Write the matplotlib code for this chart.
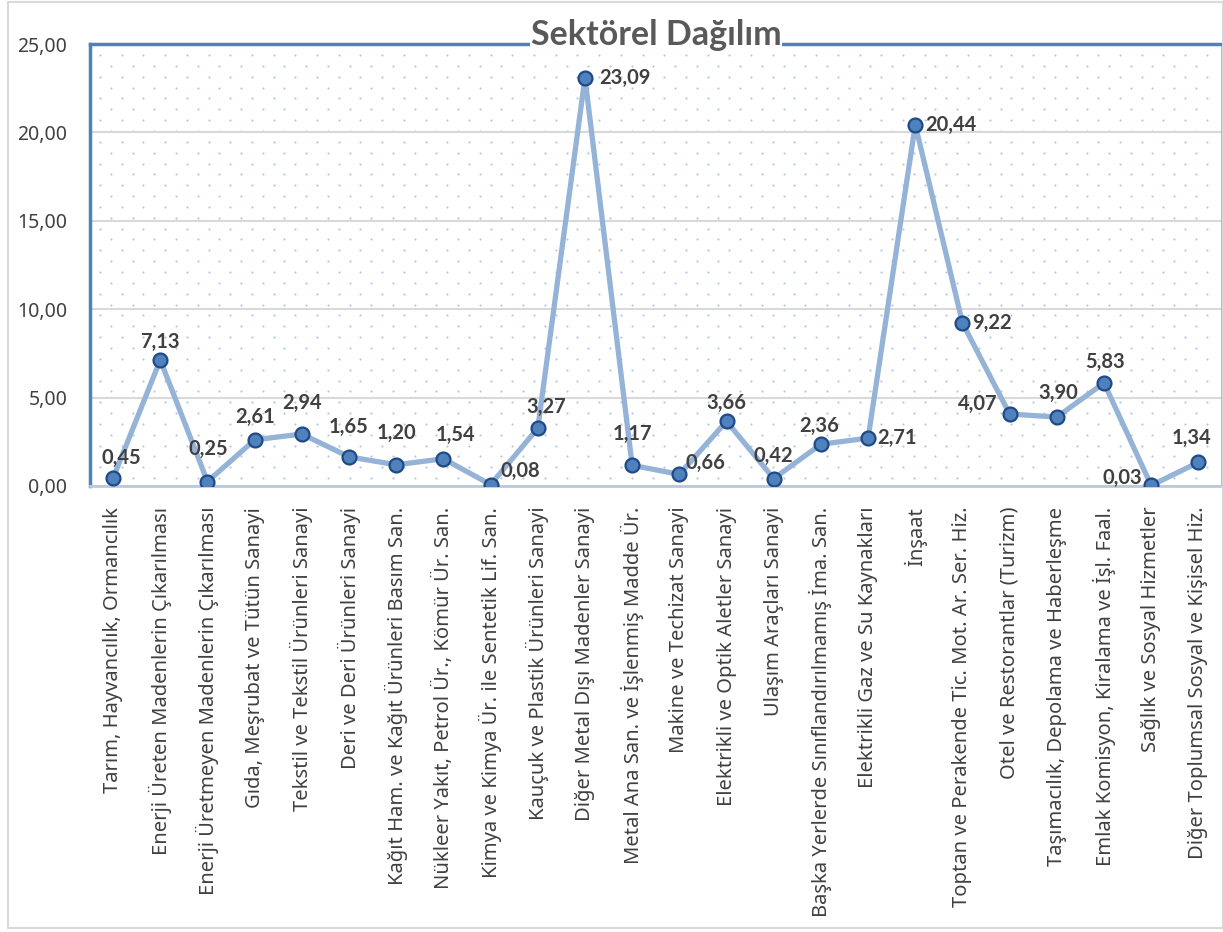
import numpy as np
import matplotlib.pyplot as plt
from matplotlib.patches import Rectangle
from matplotlib.ticker import FuncFormatter

sectors = [
    "Tarım, Hayvancılık, Ormancılık",
    "Enerji Üreten Madenlerin Çıkarılması",
    "Enerji Üretmeyen Madenlerin Çıkarılması",
    "Gıda, Meşrubat ve Tütün Sanayi",
    "Tekstil ve Tekstil Ürünleri Sanayi",
    "Deri ve Deri Ürünleri Sanayi",
    "Kağıt Ham. ve Kağıt Ürünleri Basım San.",
    "Nükleer Yakıt, Petrol Ür., Kömür Ür. San.",
    "Kimya ve Kimya Ür. ile Sentetik Lif. San.",
    "Kauçuk ve Plastik Ürünleri Sanayi",
    "Diğer Metal Dışı Madenler Sanayi",
    "Metal Ana San. ve İşlenmiş Madde Ür.",
    "Makine ve Techizat Sanayi",
    "Elektrikli ve Optik Aletler Sanayi",
    "Ulaşım Araçları Sanayi",
    "Başka Yerlerde Sınıflandırılmamış İma. San.",
    "Elektrikli Gaz ve Su Kaynakları",
    "İnşaat",
    "Toptan ve Perakende Tic. Mot. Ar. Ser. Hiz.",
    "Otel ve Restorantlar (Turizm)",
    "Taşımacılık, Depolama ve Haberleşme",
    "Emlak Komisyon, Kiralama ve İşl. Faal.",
    "Sağlık ve Sosyal Hizmetler",
    "Diğer Toplumsal Sosyal ve Kişisel Hiz.",
]
shares = [0.45, 7.13, 0.25, 2.61, 2.94, 1.65, 1.20, 1.54, 0.08, 3.27, 23.09, 1.17,
          0.66, 3.66, 0.42, 2.36, 2.71, 20.44, 9.22, 4.07, 3.90, 5.83, 0.03, 1.34]

# label placement (pixels): a = above, r = right, l = left
lab_pos = ['a', 'a', 'a', 'a', 'a', 'a', 'a', 'a', 'r', 'a', 'r', 'a',
           'r', 'a', 'a', 'a', 'r', 'r', 'r', 'l', 'a', 'a', 'l', 'a']
lab_dx = [8, 0, 1, 0, 0, 0, 0, 12, 10, 8, 14, 0, 6, 0, 0, -2, 9, 10, 10, -12, 1, 1, -9, -7]
lab_dy = [20, 18, 33, 23, 31, 30, 32, 24, 14, 21, 0, 31, 11, 18, 23, 18, 0, 0, 0, 10, 24, 21, 8, 24]

plt.rcParams['font.family'] = ['Noto Sans', 'DejaVu Sans']

W, H = 1223, 932
fig = plt.figure(figsize=(W / 100, H / 100), dpi=100)
ax = fig.add_axes([89.5 / W, (H - 486) / H, 1132.5 / W, 442 / H])

x = np.arange(len(sectors))

# dotted background
cols = np.arange(10.5, 1132, 21.7) / 1132.5
rows = np.arange(11, 442, 10.85) / 442
px, py = [], []
for k, r in enumerate(rows):
    off = 0 if k % 2 == 0 else 10.85 / 1132.5
    for c in cols:
        xx = c - off
        if 0 < xx < 1:
            px.append(xx)
            py.append(1 - r)
ax.scatter(px, py, s=2.5, color='#B3C9E6', linewidths=0, transform=ax.transAxes, zorder=0)

ax.plot(x, shares, color='#95B3D7', lw=3.8, zorder=3, solid_capstyle='round')
ax.plot(x, shares, 'o', ms=10, mfc='#4F81BD', mec='#1F4A87', mew=1.6, zorder=4)

for i, v in enumerate(shares):
    txt = f"{v:.2f}".replace('.', ',')
    if lab_pos[i] == 'a':
        ha = 'center'
    elif lab_pos[i] == 'r':
        ha = 'left'
    else:
        ha = 'right'
    ax.annotate(txt, (x[i], v), xytext=(lab_dx[i] * 0.72, lab_dy[i] * 0.72),
                textcoords='offset points', ha=ha, va='center', fontsize=14.5,
                fontweight='bold', color='#404040', family='Lato', zorder=5)

ax.set_xlim(-0.5, len(sectors) - 0.5)
ax.set_ylim(0, 25)
ax.set_yticks(np.arange(0, 26, 5))
ax.yaxis.set_major_formatter(FuncFormatter(lambda v, p: f"{v:.2f}".replace('.', ',')))
ax.set_xticks(x, sectors, rotation=90, fontsize=14.5, color='#404040')
ax.tick_params(axis='x', length=0, pad=15, labelsize=14.5, labelcolor='#404040')
ax.tick_params(axis='y', length=0, pad=16, labelsize=14, labelcolor='#404040')

ax.grid(axis='y', color='#D9D9D9', lw=1.5, zorder=1)
ax.set_axisbelow(True)
ax.spines['top'].set_color('#4F81BD')
ax.spines['top'].set_linewidth(2.5)
ax.spines['left'].set_color('#4F81BD')
ax.spines['left'].set_linewidth(2.5)
ax.spines['right'].set_color('#95B3D7')
ax.spines['right'].set_linewidth(1.2)
ax.spines['bottom'].set_color('#B9CADF')
ax.spines['bottom'].set_linewidth(2)

fig.text(656 / W, (H - 45) / H, "Sektörel Dağılım", ha='center', va='baseline',
         fontsize=24.5, fontweight='bold', color='#595959', family='Lato',
         bbox=dict(facecolor='white', edgecolor='none', pad=0.5), zorder=10)

fig.add_artist(Rectangle((8 / W, 4 / H), (W - 8) / W, (H - 6) / H, transform=fig.transFigure,
                         fill=False, edgecolor='#D9D9D9', lw=1.5))

fig.savefig('out.png', dpi=100)
